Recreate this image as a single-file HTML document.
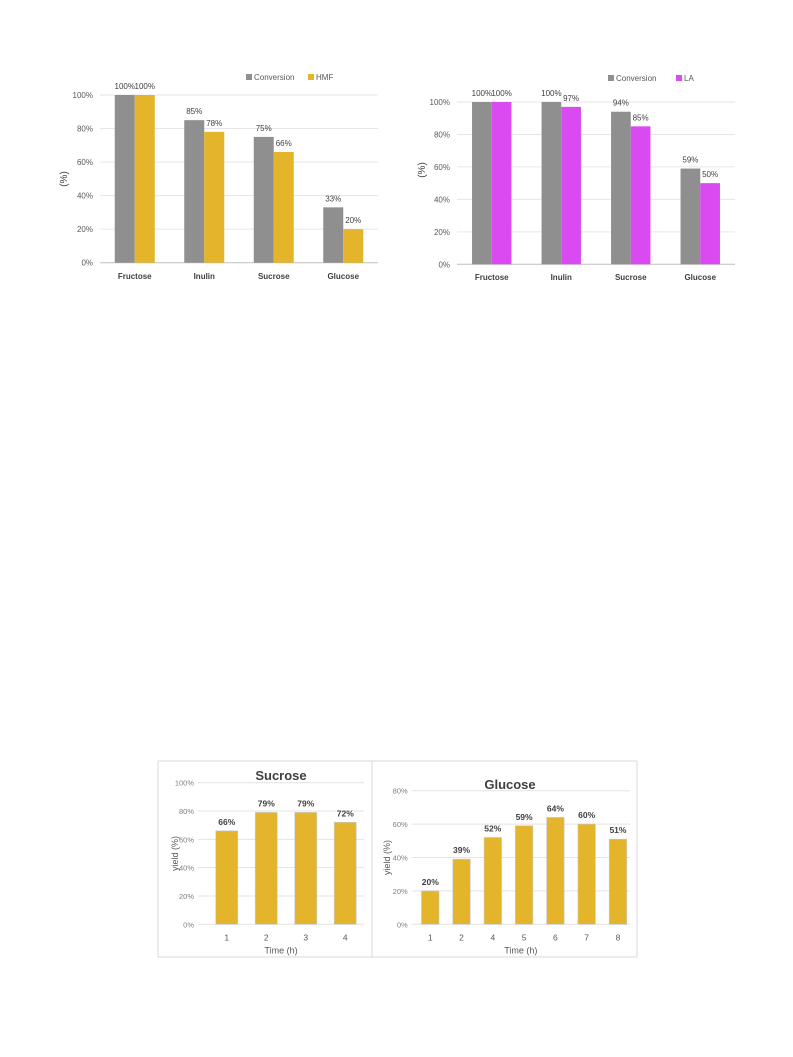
<!DOCTYPE html>
<html><head><meta charset="utf-8"><style>
body{margin:0;background:#fff;}
svg{position:absolute;left:0;top:0;font-family:"Liberation Sans",sans-serif;}
</style></head><body>
<svg id="s" width="793" height="1057">
<rect x="158" y="761" width="214" height="196" fill="none" stroke="#d9d9d9"/>
<rect x="372" y="761" width="265" height="196" fill="none" stroke="#d9d9d9"/>
</svg>
<script>
const cats1 = ["Fructose","Inulin","Sucrose","Glucose"];
const conv1 = [100,85,75,33];
const hmf1 = [100,78,66,20];
const cats2 = ["Fructose","Inulin","Sucrose","Glucose"];
const conv2 = [100,100,94,59];
const la2 = [100,97,85,50];
const cats3 = ["1","2","3","4"];
const yield3 = [66,79,79,72];
const cats4 = ["1","2","4","5","6","7","8"];
const yield4 = [20,39,52,59,64,60,51];
const ticks100 = [0,20,40,60,80,100];
const ticks80 = [0,20,40,60,80];

const svg = document.getElementById('s');
const NS = 'http://www.w3.org/2000/svg';
function mk(tag, attrs, text){
  const e = document.createElementNS(NS, tag);
  for (const k in attrs) e.setAttribute(k, attrs[k]);
  if (text !== undefined) e.textContent = text;
  svg.appendChild(e);
  return e;
}

function grouped(o){
  const y = v => o.y0 - (v/o.max)*(o.y0-o.ytop);
  const step = (o.x1-o.x0)/o.cats.length;
  o.ticks.forEach(t=>{
    const g = mk('line',{x1:o.x0,x2:o.x1,y1:y(t),y2:y(t),stroke:t===0?'#bfbfbf':'#e6e6e6','stroke-width':1});
    
    
    const l = mk('text',{x:o.x0-7,y:y(t)+3,'font-size':8,fill:'#595959','text-anchor':'end'},t+'%');
    
    
  });
  o.cats.forEach((c,i)=>{
    const cx = o.x0 + step*(i+0.5);
    [[o.a,o.ca,-1],[o.b,o.cb,0]].forEach(([arr,col,off])=>{
      const v = arr[i];
      const bx = cx + off*o.bw;
      const r = mk('rect',{x:bx,y:y(v),width:o.bw,height:o.y0-y(v),fill:col});
      
      
      const t = mk('text',{x:bx+o.bw/2,y:y(v)-6,'font-size':8,fill:'#404040','text-anchor':'middle'},v+'%');
      
      
    });
    const cl = mk('text',{x:cx,y:o.catY,'font-size':8,'font-weight':'bold',fill:'#404040','text-anchor':'middle'},c);
    
    
  });
  const yt = mk('text',{x:o.ytx,y:o.yty,'font-size':10,fill:'#404040','text-anchor':'middle',transform:`rotate(-90 ${o.ytx} ${o.yty})`},'(%)');
  
  
  o.legend.forEach(([lx,col,txt])=>{
    const sq = mk('rect',{x:lx,y:o.legY-6,width:6,height:6,fill:col});
    
    
    const lt = mk('text',{x:lx+8,y:o.legY,'font-size':8,fill:'#595959'},txt);
    
    
  });
}

grouped({cats:cats1,a:conv1,b:hmf1,ca:'#8f8f8f',cb:'#e4b52a',x0:100,x1:378,y0:262.7,ytop:95,max:100,bw:20,ticks:ticks100,catY:279,ytx:67,yty:179,legY:80,legend:[[246,'#8f8f8f','Conversion'],[308,'#e4b52a','HMF']]});
grouped({cats:cats2,a:conv2,b:la2,ca:'#8f8f8f',cb:'#d94af0',x0:457,x1:735,y0:264.3,ytop:102,max:100,bw:19.7,ticks:ticks100,catY:280,ytx:425,yty:170,legY:81,legend:[[608,'#8f8f8f','Conversion'],[676,'#d94af0','LA']]});

function single(o){
  const y = v => o.y0 - (v/o.max)*(o.y0-o.ytop);
  const step = (o.x1-o.x0)/o.cats.length;
  o.ticks.forEach(t=>{
    const g = mk('line',{x1:o.gx0,x2:o.gx1,y1:y(t),y2:y(t),stroke:'#e3e3e3','stroke-width':1});
    
    
    const l = mk('text',{x:o.gx0-4,y:y(t)+3,'font-size':7.5,fill:'#7f7f7f','text-anchor':'end'},t+'%');
    
    
  });
  o.cats.forEach((c,i)=>{
    const cx = o.x0 + step*(i+0.5);
    const v = o.vals[i];
    const r = mk('rect',{x:cx-o.bw/2,y:y(v),width:o.bw,height:o.y0-y(v),fill:'#e4b52a',stroke:'#c9c9c9','stroke-width':0.6});
    
    
    const t = mk('text',{x:cx,y:y(v)-6,'font-size':8.5,'font-weight':'bold',fill:'#404040','text-anchor':'middle'},v+'%');
    
    
    const cl = mk('text',{x:cx,y:o.y0+16,'font-size':8.5,fill:'#595959','text-anchor':'middle'},c);
    
    
  });
  const xt = mk('text',{x:(o.gx0+o.gx1)/2,y:o.y0+29,'font-size':9,fill:'#595959','text-anchor':'middle'},'Time (h)');
  
  
  const yt = mk('text',{x:o.ytx,y:(o.y0+o.ytop)/2,'font-size':9,fill:'#595959','text-anchor':'middle',transform:`rotate(-90 ${o.ytx} ${(o.y0+o.ytop)/2})`},'yield (%)');
  
  
  const tt = mk('text',{x:o.tx,y:o.ty,'font-size':13,'font-weight':'bold',fill:'#404040','text-anchor':'middle'},o.title);
  
  
}

single({cats:cats3,vals:yield3,x0:207,x1:365,gx0:198,gx1:364,y0:924.3,ytop:782.7,max:100,bw:22,ticks:ticks100,ytx:178,tx:281,ty:780,title:'Sucrose'});
single({cats:cats4,vals:yield4,x0:414.6,x1:633.6,gx0:411.7,gx1:630,y0:924.3,ytop:790.7,max:80,bw:17.5,ticks:ticks80,ytx:390,tx:510,ty:789,title:'Glucose'});
</script>
</body></html>
